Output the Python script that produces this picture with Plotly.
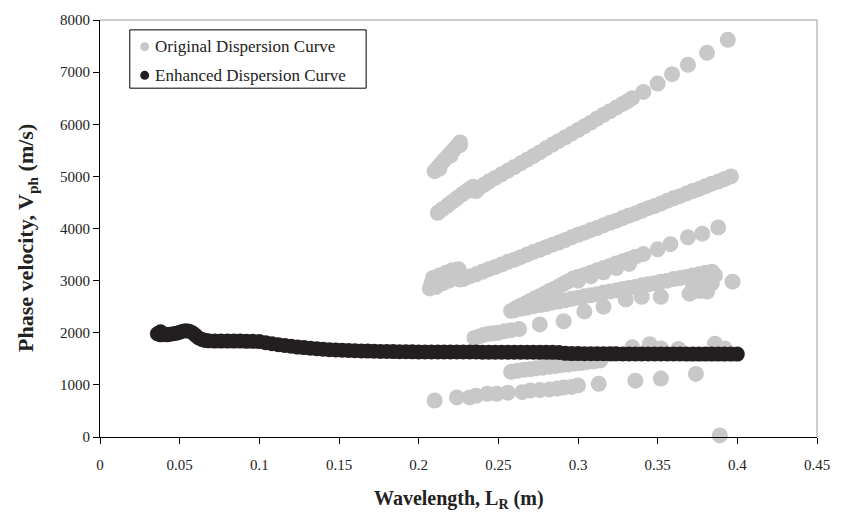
import plotly.graph_objects as go

# ---------------- data ----------------
# Original dispersion curve (grey), grouped by visible branch: (wavelength m, Vph m/s)
orig_branch_a = [(0.210, 5100), (0.212, 5170), (0.214, 5240), (0.216, 5310), (0.218, 5380),
                 (0.220, 5440), (0.222, 5510), (0.224, 5580), (0.226, 5650), (0.226, 5600),
                 (0.220, 5400), (0.213, 5150)]
orig_branch_b = [(0.212, 4300), (0.215, 4370), (0.218, 4440), (0.221, 4510), (0.224, 4580),
                 (0.227, 4650), (0.230, 4710), (0.232, 4760), (0.234, 4800), (0.236, 4720),
                 (0.238, 4780), (0.241, 4840), (0.244, 4900), (0.248, 4970), (0.252, 5040),
                 (0.256, 5110), (0.260, 5180), (0.264, 5250), (0.268, 5320), (0.272, 5390),
                 (0.276, 5460), (0.280, 5540), (0.284, 5610), (0.288, 5680), (0.292, 5750),
                 (0.296, 5820), (0.300, 5890), (0.304, 5960), (0.308, 6030), (0.312, 6110),
                 (0.316, 6180), (0.320, 6250), (0.324, 6320), (0.328, 6390), (0.331, 6440),
                 (0.334, 6500), (0.341, 6620), (0.350, 6780), (0.359, 6960), (0.369, 7140),
                 (0.381, 7370), (0.394, 7620)]
orig_branch_c = [(0.207, 2850), (0.208, 2950), (0.209, 3050), (0.211, 2880), (0.212, 3000),
                 (0.213, 3100), (0.215, 2950), (0.216, 3050), (0.217, 3150), (0.219, 3000),
                 (0.220, 3100), (0.221, 3200), (0.223, 3050), (0.224, 3150), (0.225, 3220),
                 (0.226, 3020), (0.228, 3030), (0.232, 3080), (0.236, 3120), (0.240, 3170),
                 (0.244, 3220), (0.248, 3260), (0.252, 3310), (0.256, 3360), (0.260, 3400),
                 (0.264, 3450), (0.268, 3500), (0.272, 3550), (0.276, 3590), (0.280, 3640),
                 (0.284, 3690), (0.288, 3730), (0.292, 3780), (0.296, 3830), (0.300, 3880),
                 (0.304, 3920), (0.308, 3970), (0.312, 4010), (0.316, 4060), (0.320, 4110),
                 (0.324, 4150), (0.328, 4200), (0.332, 4250), (0.336, 4290), (0.340, 4340),
                 (0.344, 4390), (0.348, 4430), (0.352, 4480), (0.356, 4530), (0.360, 4580),
                 (0.364, 4620), (0.368, 4670), (0.372, 4720), (0.376, 4760), (0.380, 4810),
                 (0.384, 4860), (0.388, 4900), (0.392, 4950), (0.396, 5000)]
orig_branch_d1 = [(0.258, 2420), (0.261, 2470), (0.264, 2520), (0.267, 2560), (0.270, 2610),
                  (0.273, 2660), (0.276, 2700), (0.279, 2750), (0.282, 2800), (0.285, 2840),
                  (0.288, 2890), (0.291, 2940), (0.294, 2990), (0.297, 3040), (0.300, 3070),
                  (0.304, 3110), (0.308, 3150), (0.312, 3200), (0.316, 3240), (0.320, 3280),
                  (0.324, 3330), (0.328, 3370), (0.332, 3410), (0.336, 3460), (0.341, 3510),
                  (0.350, 3600), (0.358, 3700), (0.369, 3830), (0.378, 3900), (0.388, 4020),
                  (0.300, 3000), (0.308, 3080), (0.316, 3160), (0.324, 3240), (0.332, 3320)]
orig_branch_d2 = [(0.260, 2430), (0.264, 2460), (0.268, 2480), (0.272, 2510), (0.276, 2530),
                  (0.280, 2550), (0.284, 2580), (0.288, 2600), (0.292, 2620), (0.296, 2650),
                  (0.300, 2670), (0.304, 2700), (0.308, 2720), (0.312, 2740), (0.316, 2770),
                  (0.320, 2790), (0.324, 2810), (0.328, 2840), (0.332, 2860), (0.336, 2880),
                  (0.340, 2910), (0.344, 2930), (0.348, 2950), (0.352, 2980), (0.356, 3000),
                  (0.360, 3030), (0.364, 3050), (0.368, 3070), (0.372, 3100), (0.376, 3120),
                  (0.380, 3150), (0.384, 3170), (0.372, 2850), (0.376, 2800), (0.380, 2900),
                  (0.384, 2950), (0.378, 3050), (0.386, 3100), (0.397, 2980)]
orig_branch_d_low = [(0.276, 2160), (0.291, 2220), (0.304, 2410), (0.316, 2500), (0.330, 2640),
                     (0.340, 2690), (0.352, 2690), (0.370, 2750), (0.381, 2790)]
orig_branch_e = [(0.235, 1900), (0.238, 1930), (0.241, 1960), (0.244, 1980), (0.247, 1990),
                 (0.250, 2000), (0.254, 2030), (0.258, 2050), (0.263, 2070)]
orig_branch_f = [(0.258, 1250), (0.262, 1270), (0.266, 1290), (0.270, 1300), (0.274, 1320),
                 (0.278, 1330), (0.282, 1350), (0.286, 1360), (0.290, 1380), (0.294, 1390),
                 (0.298, 1410), (0.302, 1420), (0.306, 1440), (0.310, 1450), (0.314, 1470),
                 (0.322, 1590), (0.334, 1720), (0.345, 1780), (0.352, 1700), (0.363, 1690),
                 (0.386, 1790), (0.392, 1700)]
orig_branch_g = [(0.210, 700), (0.224, 760), (0.232, 760), (0.236, 790), (0.243, 830),
                 (0.249, 830), (0.256, 850), (0.265, 860), (0.270, 890), (0.276, 900),
                 (0.282, 910), (0.287, 930), (0.291, 950), (0.296, 960), (0.300, 990),
                 (0.313, 1020), (0.336, 1080), (0.352, 1120), (0.374, 1210), (0.389, 30)]

# Enhanced dispersion curve (black)
enhanced = [(0.036, 1980), (0.038, 2020), (0.038, 1960), (0.040, 1970), (0.042, 1960),
            (0.044, 1970), (0.046, 1980), (0.048, 1990), (0.050, 2010), (0.052, 2030),
            (0.054, 2040), (0.056, 2030), (0.058, 2000), (0.060, 1950), (0.062, 1900),
            (0.064, 1870), (0.066, 1850), (0.068, 1845), (0.072, 1840), (0.076, 1840),
            (0.080, 1840), (0.084, 1840), (0.088, 1840), (0.092, 1835), (0.096, 1835),
            (0.100, 1830), (0.104, 1810), (0.108, 1790), (0.112, 1770), (0.116, 1755),
            (0.120, 1740), (0.124, 1725), (0.128, 1715), (0.132, 1705), (0.136, 1695),
            (0.140, 1685), (0.144, 1675), (0.148, 1670), (0.152, 1665), (0.156, 1660),
            (0.160, 1655), (0.164, 1650), (0.168, 1648), (0.172, 1645), (0.176, 1642),
            (0.180, 1640), (0.184, 1638), (0.188, 1636), (0.192, 1635), (0.196, 1634),
            (0.200, 1633), (0.204, 1632), (0.208, 1631), (0.212, 1630), (0.216, 1630),
            (0.220, 1630), (0.224, 1630), (0.228, 1630), (0.232, 1630), (0.236, 1630),
            (0.240, 1628), (0.244, 1628), (0.248, 1628), (0.252, 1626), (0.256, 1626),
            (0.260, 1626), (0.264, 1625), (0.268, 1625), (0.272, 1625), (0.276, 1624),
            (0.280, 1624), (0.284, 1624), (0.288, 1622), (0.292, 1605), (0.296, 1600),
            (0.300, 1600), (0.304, 1598), (0.308, 1598), (0.312, 1596), (0.316, 1596),
            (0.320, 1595), (0.324, 1595), (0.328, 1594), (0.332, 1594), (0.336, 1593),
            (0.340, 1593), (0.344, 1592), (0.348, 1592), (0.352, 1592), (0.356, 1591),
            (0.360, 1591), (0.364, 1591), (0.368, 1590), (0.372, 1590), (0.376, 1590),
            (0.380, 1590), (0.384, 1590), (0.388, 1590), (0.392, 1590), (0.396, 1590),
            (0.400, 1590)]

x_tick_vals = [0, 0.05, 0.1, 0.15, 0.2, 0.25, 0.3, 0.35, 0.4, 0.45]
x_tick_text = ["0", "0.05", "0.1", "0.15", "0.2", "0.25", "0.3", "0.35", "0.4", "0.45"]
y_tick_vals = [0, 1000, 2000, 3000, 4000, 5000, 6000, 7000, 8000]
y_tick_text = ["0", "1000", "2000", "3000", "4000", "5000", "6000", "7000", "8000"]
legend_labels = ["Original Dispersion Curve", "Enhanced Dispersion Curve"]

# ---------------- figure ----------------
GREY = "#c8c8c8"
BLACK = "#231f20"
FONT = "Liberation Serif, Times New Roman, serif"

orig_all = (orig_branch_a + orig_branch_b + orig_branch_c + orig_branch_d1 + orig_branch_d2
            + orig_branch_d_low + orig_branch_e + orig_branch_f + orig_branch_g)

fig = go.Figure()
fig.add_trace(go.Scatter(
    x=[p[0] for p in orig_all], y=[p[1] for p in orig_all], mode="markers",
    marker=dict(size=16, color=GREY, line=dict(width=0)), cliponaxis=False,
    name=legend_labels[0], showlegend=False))
fig.add_trace(go.Scatter(
    x=[p[0] for p in enhanced], y=[p[1] for p in enhanced], mode="markers",
    marker=dict(size=15, color=BLACK, line=dict(width=0)), cliponaxis=False,
    name=legend_labels[1], showlegend=False))

axis_common = dict(showline=True, linecolor="black", linewidth=1, showgrid=False,
                   zeroline=False, ticks="outside", ticklen=6, tickcolor="black",
                   tickfont=dict(family=FONT, size=15, color="#222"))
fig.update_xaxes(range=[0, 0.45], tickvals=x_tick_vals, ticktext=x_tick_text,
                 ticklabelstandoff=8, **axis_common)
fig.update_yaxes(range=[0, 8000], tickvals=y_tick_vals, ticktext=y_tick_text,
                 **axis_common)

# plot-area geometry helpers (pixels -> paper)
L, R, T, B = 100, 20, 15, 79
W, H = 842 - L - R, 516 - T - B


def px(xp):
    return (xp - L) / W


def py(yp):
    return (516 - B - yp) / H


shapes = [
    dict(type="line", xref="paper", yref="paper", x0=0, x1=1, y0=1, y1=1,
         line=dict(color="#9a9a9a", width=1)),
    dict(type="line", xref="paper", yref="paper", x0=1, x1=1, y0=0, y1=1,
         line=dict(color="#9a9a9a", width=1)),
    # legend box
    dict(type="rect", xref="paper", yref="paper", x0=px(130), x1=px(368),
         y0=py(84), y1=py(25), line=dict(color="black", width=1), fillcolor="white",
         layer="above"),
]
legend_y = [42, 71]
legend_colors = [GREY, BLACK]
annotations = []
for lab, yy, col in zip(legend_labels, legend_y, legend_colors):
    shapes.append(dict(type="circle", xref="paper", yref="paper", xsizemode="pixel",
                       ysizemode="pixel", xanchor=px(145), yanchor=py(yy),
                       x0=-4.5, x1=4.5, y0=-4.5, y1=4.5, fillcolor=col,
                       line=dict(width=0), layer="above"))
    annotations.append(dict(text=lab, xref="paper", yref="paper", x=px(153), y=py(yy),
                            xanchor="left", yanchor="middle", showarrow=False,
                            font=dict(family=FONT, size=17, color="#222")))

annotations.append(dict(text="<b>Wavelength, L<sub>R</sub> (m)</b>", xref="paper",
                        yref="paper", x=0.5, y=py(500), xanchor="center",
                        yanchor="middle", showarrow=False,
                        font=dict(family=FONT, size=20, color="#222")))
annotations.append(dict(text="<b>Phase velocity, V<sub>ph</sub> (m/s)</b>", xref="paper",
                        yref="paper", x=px(27), y=py(236), xanchor="center",
                        yanchor="middle", textangle=-90, showarrow=False,
                        font=dict(family=FONT, size=22, color="#222")))

fig.update_layout(width=842, height=516, margin=dict(l=L, r=R, t=T, b=B),
                  paper_bgcolor="white", plot_bgcolor="white", showlegend=False,
                  shapes=shapes, annotations=annotations)

fig.write_html("out.html", config={"displayModeBar": False})
